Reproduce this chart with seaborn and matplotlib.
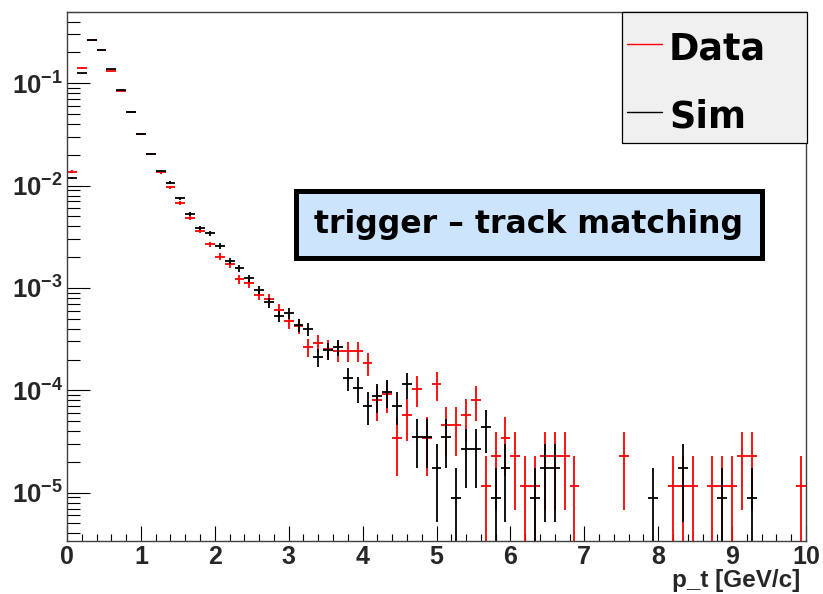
import numpy as np
import matplotlib
matplotlib.use("Agg")
import matplotlib.pyplot as plt
import seaborn as sns
from matplotlib.patches import Rectangle
from matplotlib.lines import Line2D
from matplotlib.ticker import LogLocator, MultipleLocator, NullFormatter, FixedLocator

# ---------------- data ----------------
pt_min, pt_max, n_bins = 0.0, 10.0, 75

data_counts = [1190, 12190, 22770, 18280, 11470, 7365, 4557, 2783, 1772, 1174,
               843, 592, 423, 316, 232, 176, 150, 106, 97, 75,
               68, 53, 41, 37, 23, 25, 22, 21, 21, 21,
               16, 7, 8, 3, 5, 9, 3, 10, 4, 4,
               5, 7, 1, 2, 3, 2, 1, 1, 2, 2,
               2, 1, 0, 0, 0, 0, 2, 0, 0, 0,
               0, 1, 1, 1, 0, 1, 1, 1, 2, 2,
               0, 0, 0, 0, 1]

sim_counts = [1341, 14230, 30110, 24200, 15570, 9705, 5955, 3636, 2316, 1580,
              1215, 855, 597, 441, 389, 292, 209, 177, 141, 109,
              82, 60, 64, 49, 45, 24, 28, 30, 15, 12,
              8, 10, 11, 8, 13, 4, 4, 2, 4, 1,
              3, 3, 5, 1, 2, 0, 0, 1, 2, 2,
              0, 0, 0, 0, 0, 0, 0, 0, 0, 1,
              0, 0, 2, 0, 0, 0, 1, 0, 0, 1,
              0, 0, 0, 0, 0]

series_names = ["Data", "Sim"]
series_colors = ["#ff0000", "#000000"]

x_ticks = list(range(0, 11))
x_tick_labels = [str(v) for v in x_ticks]
y_ticks = [1e-5, 1e-4, 1e-3, 1e-2, 1e-1]
y_tick_labels = [r"$10^{-5}$", r"$10^{-4}$", r"$10^{-3}$", r"$10^{-2}$", r"$10^{-1}$"]
y_limits = (3.41e-6, 0.5)

x_label = "p_t [GeV/c]"
box_text = "trigger \u2013 track matching"

# ---------------- style ----------------
sns.set_style("white")
plt.rcParams["font.family"] = ["DejaVu Sans"]
plt.rcParams["font.weight"] = "bold"
plt.rcParams["mathtext.default"] = "regular"
ARIAL = ["Liberation Sans", "DejaVu Sans"]

W, H = 823, 594
fig = plt.figure(figsize=(W / 100, H / 100), dpi=100)
fig.patch.set_facecolor("white")


def fx(px):
    return px / W


def fy(py):
    return 1 - py / H


ax_l, ax_r, ax_t, ax_b = 67, 806, 11.7, 540.5
ax = fig.add_axes([fx(ax_l), fy(ax_b), fx(ax_r - ax_l), (ax_b - ax_t) / H])
ax.set_facecolor("white")

edges = np.linspace(pt_min, pt_max, n_bins + 1)
centers = 0.5 * (edges[:-1] + edges[1:])
half_w = 0.5 * (edges[1] - edges[0])

for counts, color in zip([data_counts, sim_counts], series_colors):
    c = np.asarray(counts, dtype=float)
    norm = 1.0 / c.sum()
    m = c > 0
    y = c[m] * norm
    err = np.sqrt(c[m]) * norm
    lower = np.minimum(err, y - 1e-9)
    ax.errorbar(centers[m], y, yerr=[lower, err], xerr=half_w, fmt="none",
                ecolor=color, elinewidth=1.3, capsize=0)

ax.set_yscale("log")
ax.set_xlim(pt_min, pt_max)
ax.set_ylim(*y_limits)

ax.yaxis.set_major_locator(FixedLocator(y_ticks))
ax.set_yticklabels(y_tick_labels, fontsize=18.5, fontweight="bold", family=ARIAL)
ax.yaxis.set_minor_locator(LogLocator(base=10, subs=np.arange(2, 10), numticks=20))
ax.yaxis.set_minor_formatter(NullFormatter())

ax.set_xticks(x_ticks)
ax.set_xticklabels(x_tick_labels, fontsize=18, fontweight="bold", family=ARIAL)
ax.xaxis.set_minor_locator(MultipleLocator(0.2))

ax.tick_params(axis="y", which="major", direction="in", length=16.5, width=0.8,
               color="black", left=True, right=False, pad=3)
ax.tick_params(axis="y", which="minor", direction="in", length=9.4, width=0.8,
               color="black", left=True, right=False)
ax.tick_params(axis="x", which="major", direction="in", length=10.8, width=0.8,
               color="black", bottom=True, top=False, pad=3)
ax.tick_params(axis="x", which="minor", direction="in", length=5.4, width=0.8,
               color="black", bottom=True, top=False)

for s in ax.spines.values():
    s.set_color("#404040")
    s.set_linewidth(1.0)
    s.set_visible(True)

ax.set_xlabel(x_label, fontsize=17.5, fontweight="bold", family=ARIAL,
              ha="right", va="center")
ax.xaxis.set_label_coords((800 - ax_l) / (ax_r - ax_l), -(581 - ax_b) / (ax_b - ax_t))

# ---------------- legend box ----------------
lg_l, lg_r, lg_t, lg_b = 621.7, 806.7, 11.7, 143.3
fig.patches.append(Rectangle((fx(lg_l), fy(lg_b)), fx(lg_r - lg_l), (lg_b - lg_t) / H,
                             transform=fig.transFigure, facecolor="#f0f0f0",
                             edgecolor="black", linewidth=0.9, zorder=5))
for name, color, line_y, base_y in zip(series_names, series_colors, [44, 112], [60, 128]):
    fig.lines.append(Line2D([fx(627), fx(662)], [fy(line_y), fy(line_y)],
                            transform=fig.transFigure, color=color, linewidth=1.0, zorder=6))
    fig.text(fx(669), fy(base_y), name, fontsize=26.3, fontweight="bold",
             ha="left", va="baseline", color="black", zorder=7)

# ---------------- text box ----------------
bw = 5.0
bx_l, bx_r, bx_t, bx_b = 293 + bw / 2, 765 - bw / 2, 188 + bw / 2, 260 - bw / 2
fig.patches.append(Rectangle((fx(bx_l), fy(bx_b)), fx(bx_r - bx_l), (bx_b - bx_t) / H,
                             transform=fig.transFigure, facecolor="#cce4fc",
                             edgecolor="black", linewidth=bw * 0.72, zorder=5))
fig.text(fx(528.5), fy(233.3), box_text, fontsize=22.7, fontweight="bold",
         ha="center", va="baseline", color="black", zorder=7)

fig.savefig("out.png", dpi=100, facecolor="white")
